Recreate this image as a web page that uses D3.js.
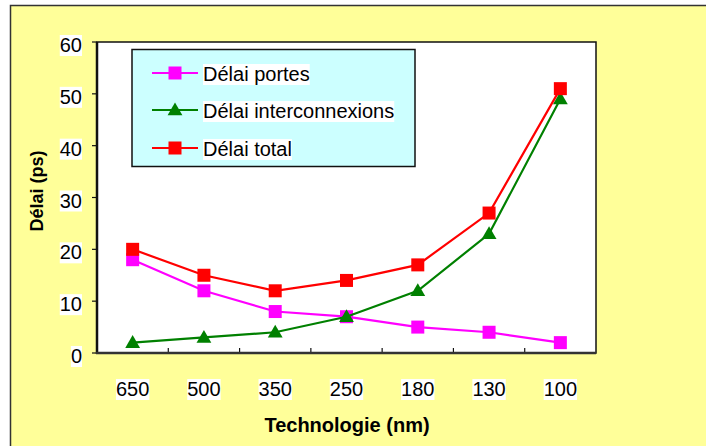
<!DOCTYPE html>
<html>
<head>
<meta charset="utf-8">
<script src="https://cdn.jsdelivr.net/npm/d3@7"></script>
<style>
  html, body { margin: 0; padding: 0; background: #ffffff; }
  svg { display: block; font-family: "Liberation Sans", Arial, sans-serif; }
</style>
</head>
<body>
<svg id="chart" width="706" height="446"></svg>
<script>
// Technology nodes (nm) and delay values (ps)
const technologies = ["650", "500", "350", "250", "180", "130", "100"];
const delaiPortes = [18, 12, 8, 7, 5, 4, 2];
const delaiInterconnexions = [2, 3, 4, 7, 12, 23, 49];
const delaiTotal = [20, 15, 12, 14, 17, 27, 51];
const yTicks = [0, 10, 20, 30, 40, 50, 60];

const series = [
  { name: "Délai portes", values: delaiPortes, color: "#ff00ff", marker: "square" },
  { name: "Délai interconnexions", values: delaiInterconnexions, color: "#008000", marker: "triangle" },
  { name: "Délai total", values: delaiTotal, color: "#ff0000", marker: "square" }
];

const svg = d3.select("#chart");

// Outer panel
svg.append("rect")
  .attr("x", 10.5).attr("y", 5.5).attr("width", 710).attr("height", 460)
  .attr("fill", "#ffff99").attr("stroke", "#333333").attr("stroke-width", 1.5);

const plot = { left: 97, top: 42, right: 596, bottom: 353 };

const x = d3.scaleBand().domain(technologies).range([plot.left, plot.right]);
const y = d3.scaleLinear().domain([0, 60]).range([plot.bottom, plot.top]);

// Plot area
svg.append("rect")
  .attr("x", plot.left).attr("y", plot.top)
  .attr("width", plot.right - plot.left).attr("height", plot.bottom - plot.top)
  .attr("fill", "#ffffff").attr("stroke", "#111111").attr("stroke-width", 1.5);

// Y axis ticks (outward)
svg.append("g").selectAll("line").data(yTicks).join("line")
  .attr("x1", plot.left - 5).attr("x2", plot.left)
  .attr("y1", d => y(d)).attr("y2", d => y(d))
  .attr("stroke", "#111").attr("stroke-width", 1.2);

// X axis ticks (inward, at category boundaries)
const bounds = technologies.slice(1).map(t => x(t));
svg.append("g").selectAll("line").data(bounds).join("line")
  .attr("x1", d => d).attr("x2", d => d)
  .attr("y1", plot.bottom - 5).attr("y2", plot.bottom)
  .attr("stroke", "#111").attr("stroke-width", 1.2);

// Axis lines
svg.append("line").attr("x1", plot.left).attr("x2", plot.left)
  .attr("y1", plot.top).attr("y2", plot.bottom + 1)
  .attr("stroke", "#111").attr("stroke-width", 2.5);
svg.append("line").attr("x1", plot.left - 1).attr("x2", plot.right)
  .attr("y1", plot.bottom).attr("y2", plot.bottom)
  .attr("stroke", "#333").attr("stroke-width", 2.5);

// Label with white backing box
function boxedLabel(g, txt, cx, cy, anchor, size) {
  const grp = g.append("g");
  const t = grp.append("text")
    .attr("x", cx).attr("y", cy)
    .attr("text-anchor", anchor)
    .attr("dominant-baseline", "central")
    .attr("font-size", size).attr("fill", "#000")
    .text(txt);
  const bb = t.node().getBBox();
  grp.insert("rect", "text")
    .attr("x", bb.x).attr("y", bb.y + 1)
    .attr("width", bb.width).attr("height", bb.height - 1)
    .attr("fill", "#ffffff");
}

const yLab = svg.append("g");
yTicks.forEach(v => boxedLabel(yLab, String(v), 82, y(v) + 3, "end", 20));

const xLab = svg.append("g");
technologies.forEach(t => boxedLabel(xLab, t, x(t) + x.bandwidth() / 2, 389, "middle", 20));

// Axis titles
svg.append("text")
  .attr("x", 347).attr("y", 432)
  .attr("text-anchor", "middle").attr("font-weight", "bold").attr("font-size", 20)
  .text("Technologie (nm)");
svg.append("text")
  .attr("transform", "translate(43,191) rotate(-90)")
  .attr("text-anchor", "middle").attr("font-weight", "bold").attr("font-size", 18)
  .text("Délai (ps)");

// Series lines and markers
const line = d3.line()
  .x((d, i) => x(technologies[i]) + x.bandwidth() / 2)
  .y(d => y(d));

const triangle = d3.symbol().type(d3.symbolTriangle).size(95);

function drawMarker(g, type, color, cx, cy) {
  if (type === "square") {
    g.append("rect")
      .attr("x", cx - 6.5).attr("y", cy - 6.5)
      .attr("width", 13).attr("height", 13)
      .attr("fill", color);
  } else {
    g.append("path").attr("d", triangle())
      .attr("transform", `translate(${cx},${cy + 1})`)
      .attr("fill", color);
  }
}

series.forEach(s => {
  svg.append("path")
    .attr("d", line(s.values))
    .attr("fill", "none").attr("stroke", s.color).attr("stroke-width", 2.2);
  const g = svg.append("g");
  s.values.forEach((v, i) =>
    drawMarker(g, s.marker, s.color, x(technologies[i]) + x.bandwidth() / 2, y(v)));
});

// Legend
const legend = svg.append("g");
legend.append("rect")
  .attr("x", 132).attr("y", 49.5).attr("width", 283).attr("height", 117)
  .attr("fill", "#ccffff").attr("stroke", "#111").attr("stroke-width", 1.5);
const legendRows = [73, 110, 148];
series.forEach((s, i) => {
  const cy = legendRows[i];
  legend.append("line")
    .attr("x1", 152).attr("x2", 198).attr("y1", cy).attr("y2", cy)
    .attr("stroke", s.color).attr("stroke-width", 2.2);
  drawMarker(legend, s.marker, s.color, 175, cy);
  boxedLabel(legend, s.name, 203, cy + 1, "start", 20);
});
</script>
</body>
</html>
